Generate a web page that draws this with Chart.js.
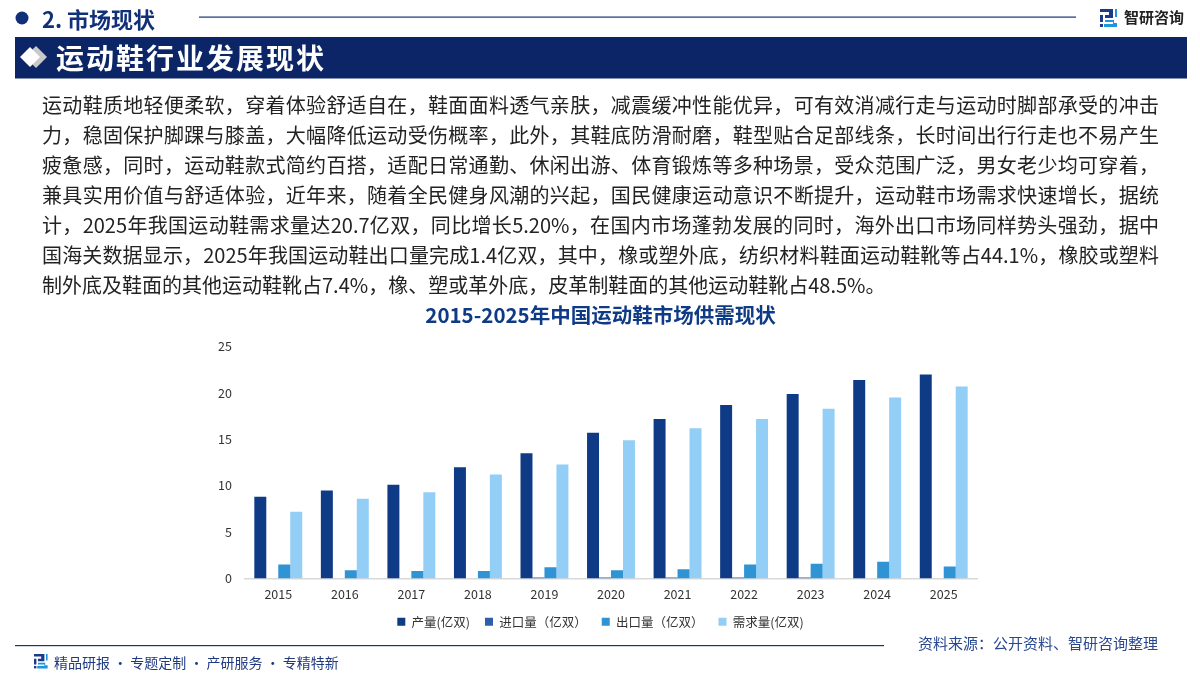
<!DOCTYPE html>
<html><head><meta charset="utf-8">
<script src="https://cdn.jsdelivr.net/npm/chart.js@4"></script>
<style>
html,body{margin:0;padding:0;background:#fff;width:1200px;height:674px;overflow:hidden;font-family:"Noto Sans CJK SC","Noto Sans",sans-serif}
#wrap{position:absolute;left:0;top:0;width:1200px;height:674px}
.abs{position:absolute;white-space:nowrap}
.para{position:absolute;left:42px;width:1117px;font-size:20px;line-height:30px;height:30px;color:#222;white-space:nowrap;text-align:justify;text-align-last:justify}
.para.last{text-align-last:left;width:auto}
</style></head><body>
<div id="wrap"><canvas id="c" width="1200" height="674"></canvas></div>
<svg class="abs" style="left:0;top:0" width="1200" height="674">
<circle cx="22" cy="18" r="6.5" fill="#12307a"/>
<rect x="199" y="16.5" width="877" height="1.2" fill="#1a3278"/>
<rect x="15" y="37" width="1172" height="41.5" fill="#0b2567"/>
<polygon points="36,46 47,57 36,68 25,57" fill="#c9c9c9"/>
<polygon points="30,47 40,57 30,67 20,57" fill="#fff"/>
<rect x="15" y="645" width="869" height="1.2" fill="#1a3278"/>
<g id="lg1" transform="translate(1100,9)">
<path d="M0 0H13V9H5V6H9V3H0Z M0 6H3V13H0Z" fill="#1d3a8a"/>
<path d="M15 0H17V8H15Z M5 11H14V14H17V18H4V15H13V13H5Z" fill="#1f95e0"/>
<rect x="0" y="15" width="3" height="3" fill="#1d3a8a"/>
</g>
<g transform="translate(34,654) scale(.8)">
<path d="M0 0H13V9H5V6H9V3H0Z M0 6H3V13H0Z" fill="#1d3a8a"/>
<path d="M15 0H17V8H15Z M5 11H14V14H17V18H4V15H13V13H5Z" fill="#1f95e0"/>
<rect x="0" y="15" width="3" height="3" fill="#1d3a8a"/>
</g>
</svg>
<div class="abs" style="left:42px;top:3px;font-size:22px;line-height:30px;font-weight:700;color:#12307a">2. 市场现状</div>
<div class="abs" style="left:56px;top:36px;font-size:28px;line-height:42px;font-weight:700;color:#fff;letter-spacing:2px">运动鞋行业发展现状</div>
<div class="abs" style="left:1124px;top:5px;font-size:15px;line-height:24px;font-weight:700;color:#222">智研咨询</div>
<div id="body"></div>
<div class="abs" style="left:54px;top:650px;font-size:14px;line-height:24px;color:#1f3a80">精品研报 · 专题定制 · 产研服务 · 专精特新</div>
<div class="abs" style="left:918px;top:631px;font-size:15px;line-height:24px;color:#27478f">资料来源：公开资料、智研咨询整理</div>
<script>
const categories=["2015","2016","2017","2018","2019","2020","2021","2022","2023","2024","2025"];
const production=[8.8,9.5,10.1,12.0,13.5,15.7,17.2,18.7,19.9,21.4,22.0];
const imports=[0,0,0,0,0.1,0.1,0.1,0.1,0.1,0,0];
const exportsQty=[1.5,0.9,0.8,0.8,1.2,0.9,1.0,1.5,1.6,1.8,1.3];
const demand=[7.2,8.6,9.3,11.2,12.3,14.9,16.2,17.2,18.3,19.5,20.7];
const seriesNames=["产量(亿双)","进口量（亿双）","出口量（亿双）","需求量(亿双)"];
const chartTitle="2015-2025年中国运动鞋市场供需现状";
const paragraphLines=[
"运动鞋质地轻便柔软，穿着体验舒适自在，鞋面面料透气亲肤，减震缓冲性能优异，可有效消减行走与运动时脚部承受的冲击",
"力，稳固保护脚踝与膝盖，大幅降低运动受伤概率，此外，其鞋底防滑耐磨，鞋型贴合足部线条，长时间出行行走也不易产生",
"疲惫感，同时，运动鞋款式简约百搭，适配日常通勤、休闲出游、体育锻炼等多种场景，受众范围广泛，男女老少均可穿着，",
"兼具实用价值与舒适体验，近年来，随着全民健身风潮的兴起，国民健康运动意识不断提升，运动鞋市场需求快速增长，据统",
"计，2025年我国运动鞋需求量达20.7亿双，同比增长5.20%，在国内市场蓬勃发展的同时，海外出口市场同样势头强劲，据中",
"国海关数据显示，2025年我国运动鞋出口量完成1.4亿双，其中，橡或塑外底，纺织材料鞋面运动鞋靴等占44.1%，橡胶或塑料",
"制外底及鞋面的其他运动鞋靴占7.4%，橡、塑或革外底，皮革制鞋面的其他运动鞋靴占48.5%。"];
const host=document.getElementById('body');
paragraphLines.forEach((t,i)=>{const d=document.createElement('div');
 d.className='para'+(i===paragraphLines.length-1?' last':'');
 d.style.top=(90+i*30)+'px';
 d.style.textJustify='inter-character';
 d.textContent=t;host.appendChild(d);});
const font='"Noto Sans CJK SC","Noto Sans",sans-serif';
Chart.defaults.font.family=font;
new Chart(document.getElementById('c'),{type:'bar',
 data:{labels:categories,datasets:[
  {label:seriesNames[0],data:production,backgroundColor:'#0e3a86'},
  {label:seriesNames[1],data:imports,backgroundColor:'#2f5fab'},
  {label:seriesNames[2],data:exportsQty,backgroundColor:'#2f93d4'},
  {label:seriesNames[3],data:demand,backgroundColor:'#92cef5'}]},
 options:{responsive:false,animation:false,devicePixelRatio:1,
  layout:{padding:{left:210,right:209,top:303,bottom:36}},
  datasets:{bar:{categoryPercentage:.72,barPercentage:1}},
  plugins:{
   title:{display:true,text:chartTitle,color:'#0f3a85',font:{size:20.5,weight:'bold',family:font},padding:{top:0,bottom:19}},
   legend:{position:'bottom',labels:{boxWidth:8,boxHeight:8,padding:15,color:'#333',font:{size:12.5}}},
   tooltip:{enabled:false}},
  scales:{
   x:{grid:{display:false,drawTicks:false},border:{color:'#d9d9d9',width:1.5},
      afterFit(s){s.height=22},
      ticks:{color:'#333',font:{size:12.5},padding:8}},
   y:{min:0,max:25,grid:{display:false,drawTicks:false},border:{display:false},
      afterFit(s){s.width=35},
      ticks:{stepSize:5,color:'#333',font:{size:12.5},padding:13}},
   // empty right-hand axis: reserves the gap right of the plot so title and legend centre as in the reference
   yGap:{type:'linear',position:'right',min:0,max:25,grid:{display:false,drawTicks:false},border:{display:false},
      ticks:{display:false},afterFit(s){s.width=14}}}
 }});
</script>
</body></html>
